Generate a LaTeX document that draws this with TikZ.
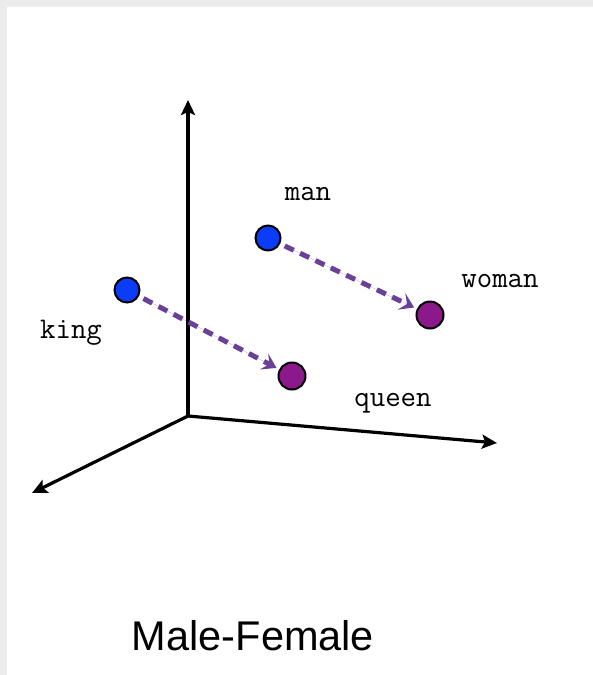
\documentclass[tikz,border=0pt]{standalone}
\usepackage{fontspec}
\setmainfont{Liberation Sans}
\usetikzlibrary{arrows.meta}
\definecolor{frame}{RGB}{235,235,235}
\definecolor{ptblue}{RGB}{10,60,250}
\definecolor{ptpurple}{RGB}{140,25,140}
\definecolor{arrpurple}{RGB}{105,65,150}
\tikzset{
  axis/.style={line width=3.2pt,-{Stealth[length=15pt,width=14pt,inset=3pt]}},
  male/.style={circle,draw=black,line width=2pt,fill=ptblue,minimum size=25pt,inner sep=0pt},
  female/.style={circle,draw=black,line width=2pt,fill=ptpurple,minimum size=27pt,inner sep=0pt},
  rel/.style={draw=arrpurple,fill=arrpurple,line width=5pt,dash pattern=on 10pt off 7pt,-{Stealth[length=14pt,width=18pt,inset=6pt]},shorten <=5pt,shorten >=3pt},
  lab/.style={font=\ttfamily\fontsize{30}{30}\selectfont,inner sep=0pt}
}
\begin{document}
\begin{tikzpicture}[x=1pt,y=-1pt]
\useasboundingbox (0,0) rectangle (593,675);
\fill[frame] (0,0) rectangle (593,675);
\fill[white] (7,7) rectangle (593,675);
\coordinate (o) at (188,416);
\coordinate (ytip) at (188,100);
\coordinate (xtip) at (497,443);
\coordinate (ztip) at (32,493);
\draw[axis] (o) -- (ytip);
\draw[axis] (o) -- (xtip);
\draw[axis] (o) -- (ztip);
\node[male] (king) at (127,290) {};
\node[male] (man) at (268,238) {};
\node[female] (queen) at (292,376) {};
\node[female] (woman) at (430,315) {};
\draw[rel] (king) -- (queen);
\draw[rel] (man) -- (woman);
\node[lab] (lman) at (308,194) {man};
\node[lab] (lwoman) at (500,281) {woman};
\node[lab] (lking) at (71,333) {king};
\node[lab] (lqueen) at (393,403) {queen};
\node[font=\fontsize{41.5}{41.5}\selectfont,inner sep=0pt] (title) at (253,636) {Male-Female};
\end{tikzpicture}
\end{document}
